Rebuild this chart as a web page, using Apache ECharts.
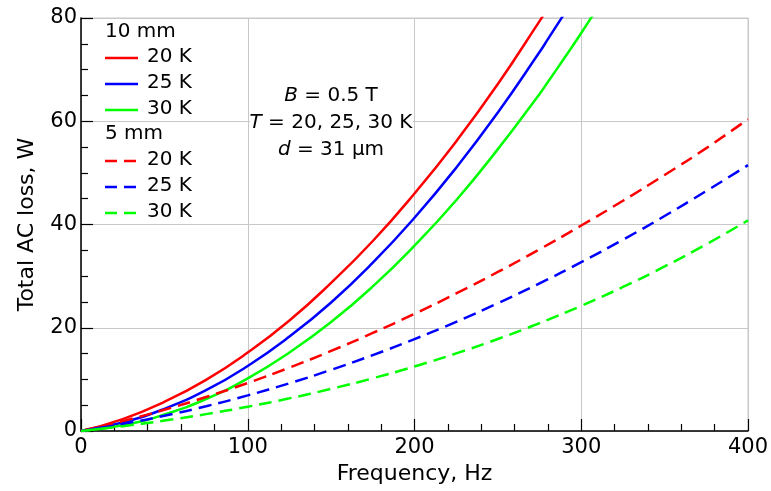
<!DOCTYPE html>
<html>
<head>
<meta charset="utf-8">
<script src="https://cdn.jsdelivr.net/npm/echarts@6/dist/echarts.min.js"></script>
<style>html,body{margin:0;padding:0;background:#fff}#c{width:771px;height:491px}</style>
</head>
<body>
<div id="c"></div>
<script>
// Frequencies (Hz)
var freqSolid = [0,25,50,75,100,125,150,175,200,225,250,275,280,290,300,310];
var freqDashed = [0,25,50,75,100,125,150,175,200,225,250,275,300,325,350,375,400];
// 10 mm (solid) total AC loss, W
var loss10_20K = [0,2.3,5.65,9.9,15.2,21.4,28.7,36.8,46.0,56.1,67.2,79.4,81.9,null,null,null];
var loss10_25K = [0,1.64,4.3,7.9,12.6,18.3,24.9,32.6,41.3,51.0,61.7,73.4,75.9,80.9,null,null];
var loss10_30K = [0,1.1,3.2,6.2,10.2,15.2,21.1,28.0,35.9,44.7,54.6,65.3,67.6,72.3,77.1,82.1];
// 5 mm (dashed) total AC loss, W
var loss5_20K = [0,1.92,4.11,6.58,9.3,12.28,15.51,18.99,22.7,26.64,30.81,35.2,39.8,44.6,49.6,54.8,60.4];
var loss5_25K = [0,1.35,2.95,4.8,6.9,9.25,11.85,14.7,17.8,21.15,24.75,28.6,32.7,37.05,41.65,46.5,51.5];
var loss5_30K = [0,0.93,2.02,3.27,4.7,6.33,8.16,10.21,12.5,15.03,17.83,20.9,24.25,27.9,31.87,36.17,40.8];
var xTicks = [0,100,200,300,400];
var yTicks = [0,20,40,60,80];

function pairs(xs, ys){
  var out = [];
  for (var i = 0; i < xs.length; i++) if (ys[i] !== null) out.push([xs[i], ys[i]]);
  return out;
}
var FONT = 'DejaVu Sans';
var RED = '#ff0000', BLUE = '#0000ff', GREEN = '#00ff00';
function mk(name, xs, ys, color, dashed){
  return {
    name: name, type: 'line', data: pairs(xs, ys), smooth: true, symbol: 'none',
    clip: true,
    lineStyle: {color: color, width: 2.5, type: dashed ? [13, 7] : 'solid'},
    itemStyle: {color: color}
  };
}

var chart = echarts.init(document.getElementById('c'), null, {renderer: 'canvas'});

var legendGraphics = [];
function legText(txt, x, y){
  legendGraphics.push({type:'text', left: x, top: y - 11, z: 20,
    style:{text: txt, font: '20px "' + FONT + '"', fill:'#000'}});
}
function legLine(color, y, dashed){
  legendGraphics.push({type:'line', z: 20,
    shape:{x1:105, y1:y, x2:138, y2:y},
    style:{stroke: color, lineWidth: 2.5, lineDash: dashed ? [12, 7] : null}});
}
legText('10 mm', 105, 33);
legLine(RED, 58, false); legText('20 K', 147, 58);
legLine(BLUE, 84, false); legText('25 K', 147, 84);
legLine(GREEN, 110, false); legText('30 K', 147, 110);
legText('5 mm', 105, 135);
legLine(RED, 161, true); legText('20 K', 147, 161);
legLine(BLUE, 187, true); legText('25 K', 147, 187);
legLine(GREEN, 213, true); legText('30 K', 147, 213);

var annot = [
  {type:'rect', z: 15, shape:{x:250, y:84, width:163, height:68}, style:{fill:'#fff'}},
  {type:'text', z: 20, x: 331, y: 96,
    style:{text:'{i|B} = 0.5 T', align:'center', verticalAlign:'middle', font:'20px "' + FONT + '"', fill:'#000',
      rich:{i:{fontStyle:'italic', fontFamily: FONT, fontSize:20}}}},
  {type:'text', z: 20, x: 331, y: 123,
    style:{text:'{i|T} = 20, 25, 30 K', align:'center', verticalAlign:'middle', font:'20px "' + FONT + '"', fill:'#000',
      rich:{i:{fontStyle:'italic', fontFamily: FONT, fontSize:20}}}},
  {type:'text', z: 20, x: 331, y: 150,
    style:{text:'{i|d} = 31 μm', align:'center', verticalAlign:'middle', font:'20px "' + FONT + '"', fill:'#000',
      rich:{i:{fontStyle:'italic', fontFamily: FONT, fontSize:20}}}}
];

chart.setOption({
  animation: false,
  backgroundColor: '#fff',
  textStyle: {fontFamily: FONT},
  grid: {left: 81, right: 23, top: 18, bottom: 60, containLabel: false, outerBoundsMode: 'none',
    show: true, borderColor: '#c8c8c8', borderWidth: 1, backgroundColor: 'transparent'},
  xAxis: {
    type: 'value', min: 0, max: 400, interval: 100,
    name: 'Frequency, Hz', nameLocation: 'middle', nameGap: 31,
    nameTextStyle: {fontSize: 22, color: '#000', fontFamily: FONT},
    axisLine: {show: true, onZero: false, lineStyle: {color: '#000', width: 1.5}},
    axisTick: {show: true, inside: true, length: 12, lineStyle: {color: '#000', width: 1.2}},
    minorTick: {show: true, splitNumber: 5, length: 7, lineStyle: {color: '#000', width: 1.2}},
    axisLabel: {color: '#000', fontSize: 21, margin: 6, fontFamily: FONT,
      customValues: xTicks, showMinLabel: true, showMaxLabel: true},
    splitLine: {show: true, lineStyle: {color: '#c8c8c8', width: 1}},
    minorSplitLine: {show: false}
  },
  yAxis: {
    type: 'value', min: 0, max: 80, interval: 20,
    name: 'Total AC loss, W', nameLocation: 'middle', nameGap: 43, nameRotate: 90,
    nameTextStyle: {fontSize: 22, color: '#000', fontFamily: FONT},
    axisLine: {show: true, onZero: false, lineStyle: {color: '#000', width: 1.5}},
    axisTick: {show: true, inside: true, length: 12, lineStyle: {color: '#000', width: 1.2}},
    minorTick: {show: true, splitNumber: 4, length: 7, lineStyle: {color: '#000', width: 1.2}},
    axisLabel: {color: '#000', fontSize: 21, margin: 4, fontFamily: FONT,
      showMinLabel: true, showMaxLabel: true},
    splitLine: {show: true, lineStyle: {color: '#c8c8c8', width: 1}},
    minorSplitLine: {show: false}
  },
  series: [
    mk('10 mm 20 K', freqSolid, loss10_20K, RED, false),
    mk('10 mm 25 K', freqSolid, loss10_25K, BLUE, false),
    mk('10 mm 30 K', freqSolid, loss10_30K, GREEN, false),
    mk('5 mm 20 K', freqDashed, loss5_20K, RED, true),
    mk('5 mm 25 K', freqDashed, loss5_25K, BLUE, true),
    mk('5 mm 30 K', freqDashed, loss5_30K, GREEN, true)
  ],
  graphic: legendGraphics.concat(annot)
});
</script>
</body>
</html>
